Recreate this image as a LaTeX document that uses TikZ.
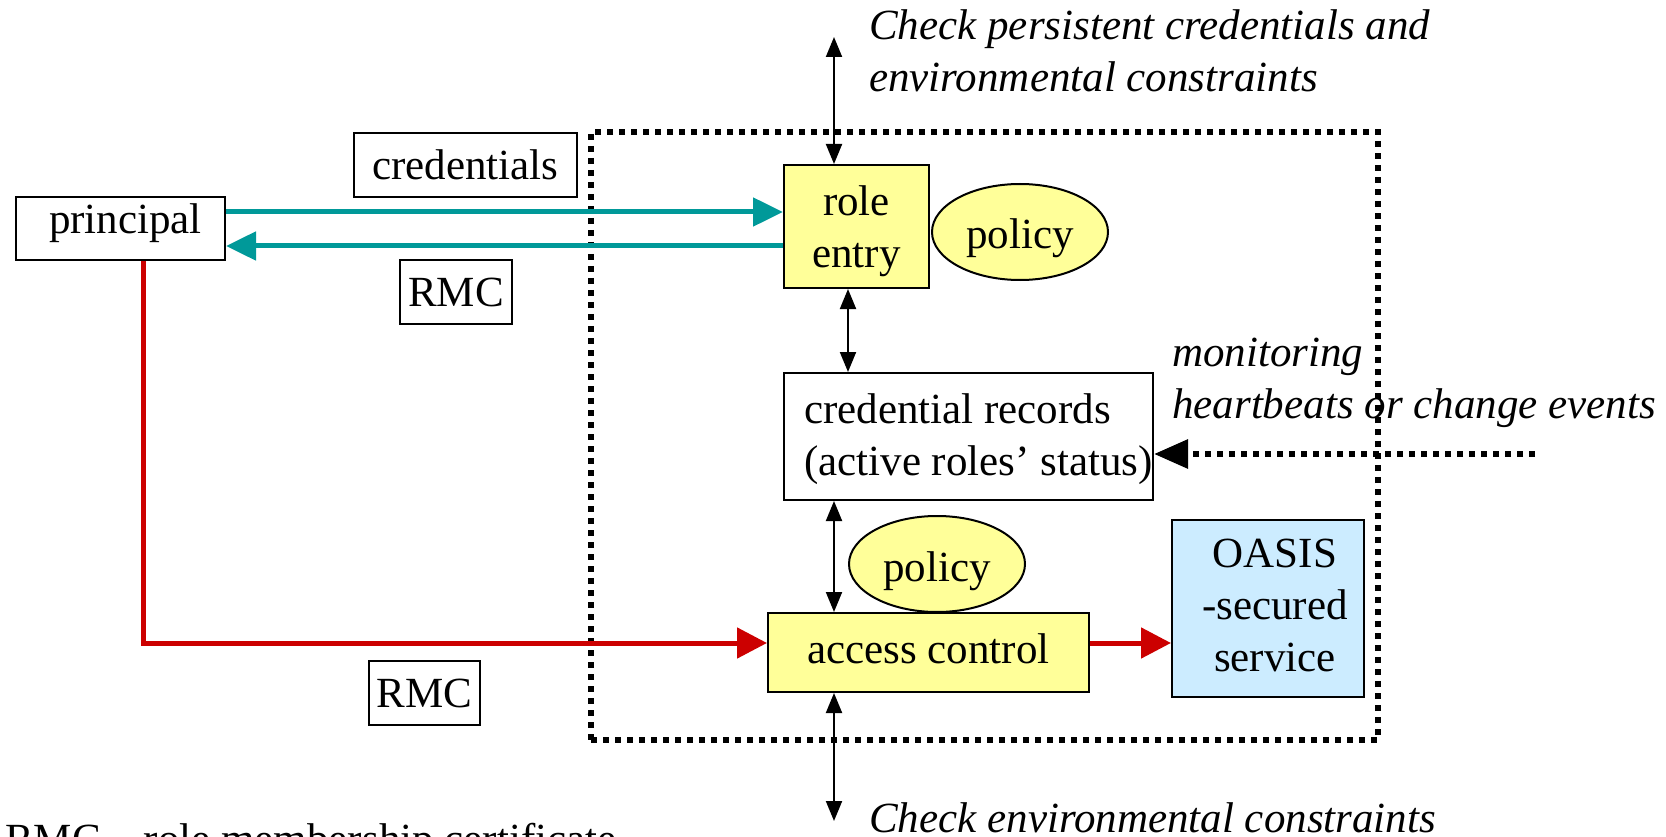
\documentclass[tikz,border=0pt]{standalone}
\usepackage{fontspec}
\setmainfont{Liberation Serif}
\usetikzlibrary{arrows.meta,shapes.geometric}
\definecolor{boxyellow}{HTML}{FFFF99}
\definecolor{boxblue}{HTML}{CCECFF}
\definecolor{tealline}{HTML}{009999}
\definecolor{redline}{HTML}{CC0000}
\begin{document}
\begin{tikzpicture}[x=1pt,y=-1pt,
  every node/.style={font=\fontsize{43}{52}\selectfont},
  plainbox/.style={draw=black,line width=2pt,inner sep=0pt,rectangle},
  ybox/.style={plainbox,fill=boxyellow},
  pol/.style={ellipse,draw=black,line width=2pt,fill=boxyellow,minimum width=176pt,minimum height=96pt,inner sep=0pt},
  notetext/.style={font=\fontsize{43}{52}\selectfont\itshape,inner sep=0pt,align=left},
  dbl/.style={line width=2pt,{Triangle[length=20pt,width=16pt]}-{Triangle[length=20pt,width=16pt]}},
  tealarrow/.style={draw=tealline,color=tealline,line width=5pt,-{Triangle[length=30pt,width=28pt]}},
  redarrow/.style={draw=redline,color=redline,line width=5pt,-{Triangle[length=30pt,width=30pt]}},
  dotline/.style={line width=6pt,dash pattern=on 6pt off 6pt},
]
\useasboundingbox (0,0) rectangle (1666,837);
\clip (0,0) rectangle (1666,837);

% dotted service boundary
\node[dotline,draw,minimum width=787pt,minimum height=608pt,inner sep=0pt] (svc) at (984.5,436) {};

% boxes
\node[plainbox,minimum width=209pt,minimum height=63pt] (pr) at (120.5,228.5) {\hspace*{10pt}principal\rule[-19pt]{0pt}{1pt}};
\node[plainbox,minimum width=223pt,minimum height=64pt] (cred) at (465.5,165) {credentials};
\node[plainbox,minimum width=112pt,minimum height=64pt] (rmc1) at (456,292) {RMC};
\node[plainbox,minimum width=111pt,minimum height=64pt] (rmc2) at (424.5,693) {RMC};
\node[ybox,minimum width=145pt,minimum height=123pt,align=center] (re) at (856.5,226.5) {\rule{0pt}{39pt}role\\entry};
\node[pol] (p1) at (1020,232) {\rule{0pt}{42pt}policy};
\node[plainbox,minimum width=369pt,minimum height=127pt,align=left] (cr) at (968.5,436.5) {\hspace*{20pt}\rule{0pt}{35pt}credential records\\\hspace*{20pt}(active roles’ status)};
\node[pol] (p2) at (937,564) {\rule{0pt}{44pt}policy};
\node[ybox,minimum width=321pt,minimum height=79pt] (ac) at (928.5,652.5) {access control\rule[-7pt]{0pt}{1pt}};
\node[plainbox,fill=boxblue,minimum width=192pt,minimum height=177pt,align=center] (os) at (1268,608) {\hspace*{14pt}OASIS\\\hspace*{14pt}-secured\\\hspace*{14pt}service\rule[-6pt]{0pt}{1pt}};

% annotations
\node[notetext,anchor=north west] (n1) at (869,9) {Check persistent credentials and\\environmental constraints};
\node[notetext,anchor=north west] (n2) at (1172,338) {monitoring\\heartbeats or change events};
\node[notetext,anchor=base west] (n3) at (869,832) {Check environmental constraints};
\node[anchor=base west,inner sep=0pt] (leg) at (5,853) {RMC – role membership certificate};

% black double arrows
\coordinate (a1) at (834,37);
\draw[dbl] (a1) -- (a1 |- re.north);
\coordinate (a2) at (848,0);
\draw[dbl] (a2 |- re.south) -- (a2 |- cr.north);
\coordinate (a3) at (834,0);
\draw[dbl] (a3 |- cr.south) -- (a3 |- ac.north);
\coordinate (a4) at (834,821);
\draw[dbl] (ac.south -| a4) -- (a4);

% teal arrows
\coordinate (ty1) at (0,212);
\coordinate (ty2) at (0,246);
\draw[tealarrow] (pr.east |- ty1) -- (re.west |- ty1);
\draw[tealarrow] (re.west |- ty2) -- (pr.east |- ty2);

% red arrows
\coordinate (rc) at (143,643);
\draw[redarrow] (rc |- pr.south) -- (rc) -- (rc -| ac.west);
\draw[redarrow] (rc -| ac.east) -- (rc -| os.west);

% monitoring dotted arrow
\coordinate (mon) at (1535,454);
\draw[dotline,-{Triangle[length=34pt,width=28pt]}] (mon) -- (mon -| cr.east);
\end{tikzpicture}
\end{document}
